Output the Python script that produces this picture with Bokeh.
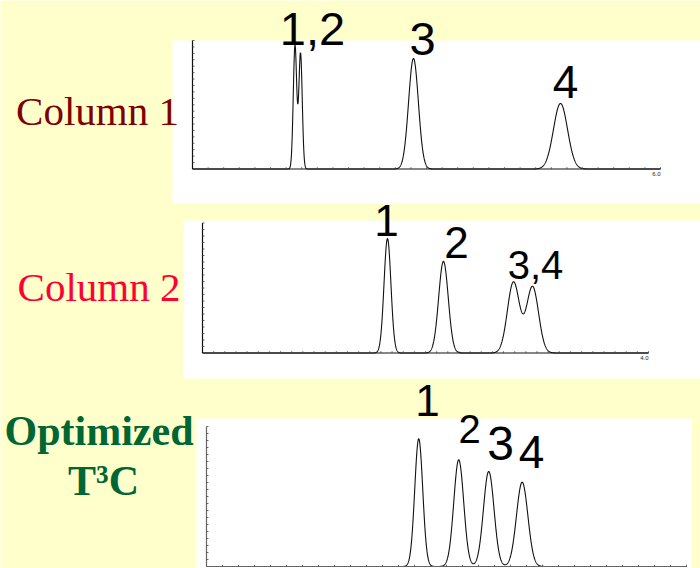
import numpy as np
from bokeh.plotting import figure
from bokeh.models import Range1d
from bokeh.core.properties import value
from bokeh.embed import file_html
from bokeh.resources import INLINE

# ---- peak tables: retention time (min), relative height (%), peak sigma (min)
col1_rt = [1.314, 1.385, 2.833, 4.718]
col1_height = [96, 90, 86, 51]
col1_sigma = [0.022, 0.022, 0.063, 0.090]
col1_tick_labels = ["1,2", "3", "4"]
col1_run_end = 6.0

col2_rt = [1.659, 2.161, 2.789, 2.960]
col2_height = [88, 70.5, 54.5, 51]
col2_sigma = [0.031, 0.043, 0.054, 0.054]
col2_tick_labels = ["1", "2", "3,4"]
col2_run_end = 4.0

t3c_rt = [2.653, 3.153, 3.528, 3.946]
t3c_height = [91.2, 76.2, 67.9, 60.2]
t3c_sigma = [0.050, 0.062, 0.066, 0.071]
t3c_tick_labels = ["1", "2", "3", "4"]
t3c_run_end = 6.0

row_titles = ["Column 1", "Column 2", "Optimized", "T\u00b3C"]

# ---- page geometry (pixels from top-left)
W, H = 700, 568
BG = "#FFFFCC"
LIFT = 0.4  # baseline correction for svg text, in em

p = figure(width=W, height=H, x_range=Range1d(0, W), y_range=Range1d(H, 0),
           x_axis_type=None, y_axis_type=None, toolbar_location=None,
           output_backend="svg", min_border=0, outline_line_color=None,
           background_fill_color=BG, border_fill_color=BG)
p.grid.visible = False

# white chart cards
p.quad(left=[172, 183, 196], right=[700, 700, 691], top=[40, 220, 418],
       bottom=[203, 378, 568], fill_color="white", line_color=None)

# per panel: time-zero px, time-end px, zero-signal px, 100%-signal px
panels = [
    dict(name="c1", rt=col1_rt, h=col1_height, s=col1_sigma, t_end=col1_run_end,
         x0=192, x1=660, y0=168.5, y1=40, xt=0.2, axis_color="#111", end_label="6.0"),
    dict(name="c2", rt=col2_rt, h=col2_height, s=col2_sigma, t_end=col2_run_end,
         x0=202, x1=648, y0=352.5, y1=222.5, xt=0.1, axis_color="#111", end_label="4.0"),
    dict(name="c3", rt=t3c_rt, h=t3c_height, s=t3c_sigma, t_end=t3c_run_end,
         x0=206, x1=686, y0=566, y1=426, xt=0.2, axis_color="#666", end_label=None),
]

for pn in panels:
    kx = (pn["x1"] - pn["x0"]) / pn["t_end"]
    ky = (pn["y0"] - pn["y1"]) / 100.0
    xr, yr = "t_" + pn["name"], "s_" + pn["name"]
    p.extra_x_ranges[xr] = Range1d(-pn["x0"] / kx, (W - pn["x0"]) / kx)
    p.extra_y_ranges[yr] = Range1d((pn["y0"] - H) / ky, pn["y0"] / ky)

    # chromatogram trace: sum of the tabulated peaks
    t = np.linspace(0, pn["t_end"], 3000)
    sig = np.zeros_like(t)
    for rt, h, s in zip(pn["rt"], pn["h"], pn["s"]):
        sig += h * np.exp(-0.5 * ((t - rt) / s) ** 2)
    p.line(t, sig, x_range_name=xr, y_range_name=yr, line_color="#111", line_width=1.1)

    # axes
    p.segment(x0=[0, 0], y0=[0, 0], x1=[pn["t_end"], 0], y1=[0, 100],
              x_range_name=xr, y_range_name=yr, line_color=pn["axis_color"], line_width=1.2)
    xt = np.arange(pn["xt"], pn["t_end"] + 1e-9, pn["xt"])
    p.segment(x0=xt, y0=np.zeros_like(xt), x1=xt, y1=np.full_like(xt, 1.8 / ky),
              x_range_name=xr, y_range_name=yr, line_color="#444", line_width=0.8)
    yt = np.arange(5, 100.1, 5)
    p.segment(x0=np.zeros_like(yt), y0=yt, x1=np.full_like(yt, 2.0 / kx), y1=yt,
              x_range_name=xr, y_range_name=yr, line_color="#444", line_width=0.8)
    if pn["end_label"]:
        p.text(x=[pn["t_end"]], y=[-2.5 / ky], text=[pn["end_label"]],
               x_range_name=xr, y_range_name=yr, text_align="right", text_baseline="top",
               text_font=value("Liberation Sans"), text_font_size="6px", text_color="#222")

# peak numbers (pixel placement: centre x, glyph bottom y, font px)
num_font = value("Liberation Sans")
peak_label_sets = [
    (col1_tick_labels, [312, 422, 565], [47, 57, 100], [47, 47, 46]),
    (col2_tick_labels, [386, 456, 535], [238, 260, 280], [44, 44, 40]),
    (t3c_tick_labels, [427, 469, 500, 531], [418, 444, 462, 470], [44, 40, 48, 46]),
]
for labels, xs, ys, sizes in peak_label_sets:
    for lab, x, y, fs in zip(labels, xs, ys, sizes):
        p.text(x=[x], y=[y - LIFT * fs], text=[lab], text_align="center",
               text_baseline="alphabetic", text_font=num_font,
               text_font_size=f"{fs}px", text_color="black")

# row titles
serif = value("Liberation Serif")
title_specs = [
    (row_titles[0], 97, 127, 41, "normal", "#800000"),
    (row_titles[1], 98.5, 303, 41, "normal", "#FF0033"),
    (row_titles[2], 98.5, 447, 42, "bold", "#006633"),
    (row_titles[3], 103, 497, 42, "bold", "#006633"),
]
for txt, x, y, fs, style, color in title_specs:
    p.text(x=[x], y=[y - LIFT * fs], text=[txt], text_align="center",
           text_baseline="alphabetic", text_font=serif, text_font_size=f"{fs}px",
           text_font_style=style, text_color=color)

open("out.html", "w").write(file_html(p, INLINE))
